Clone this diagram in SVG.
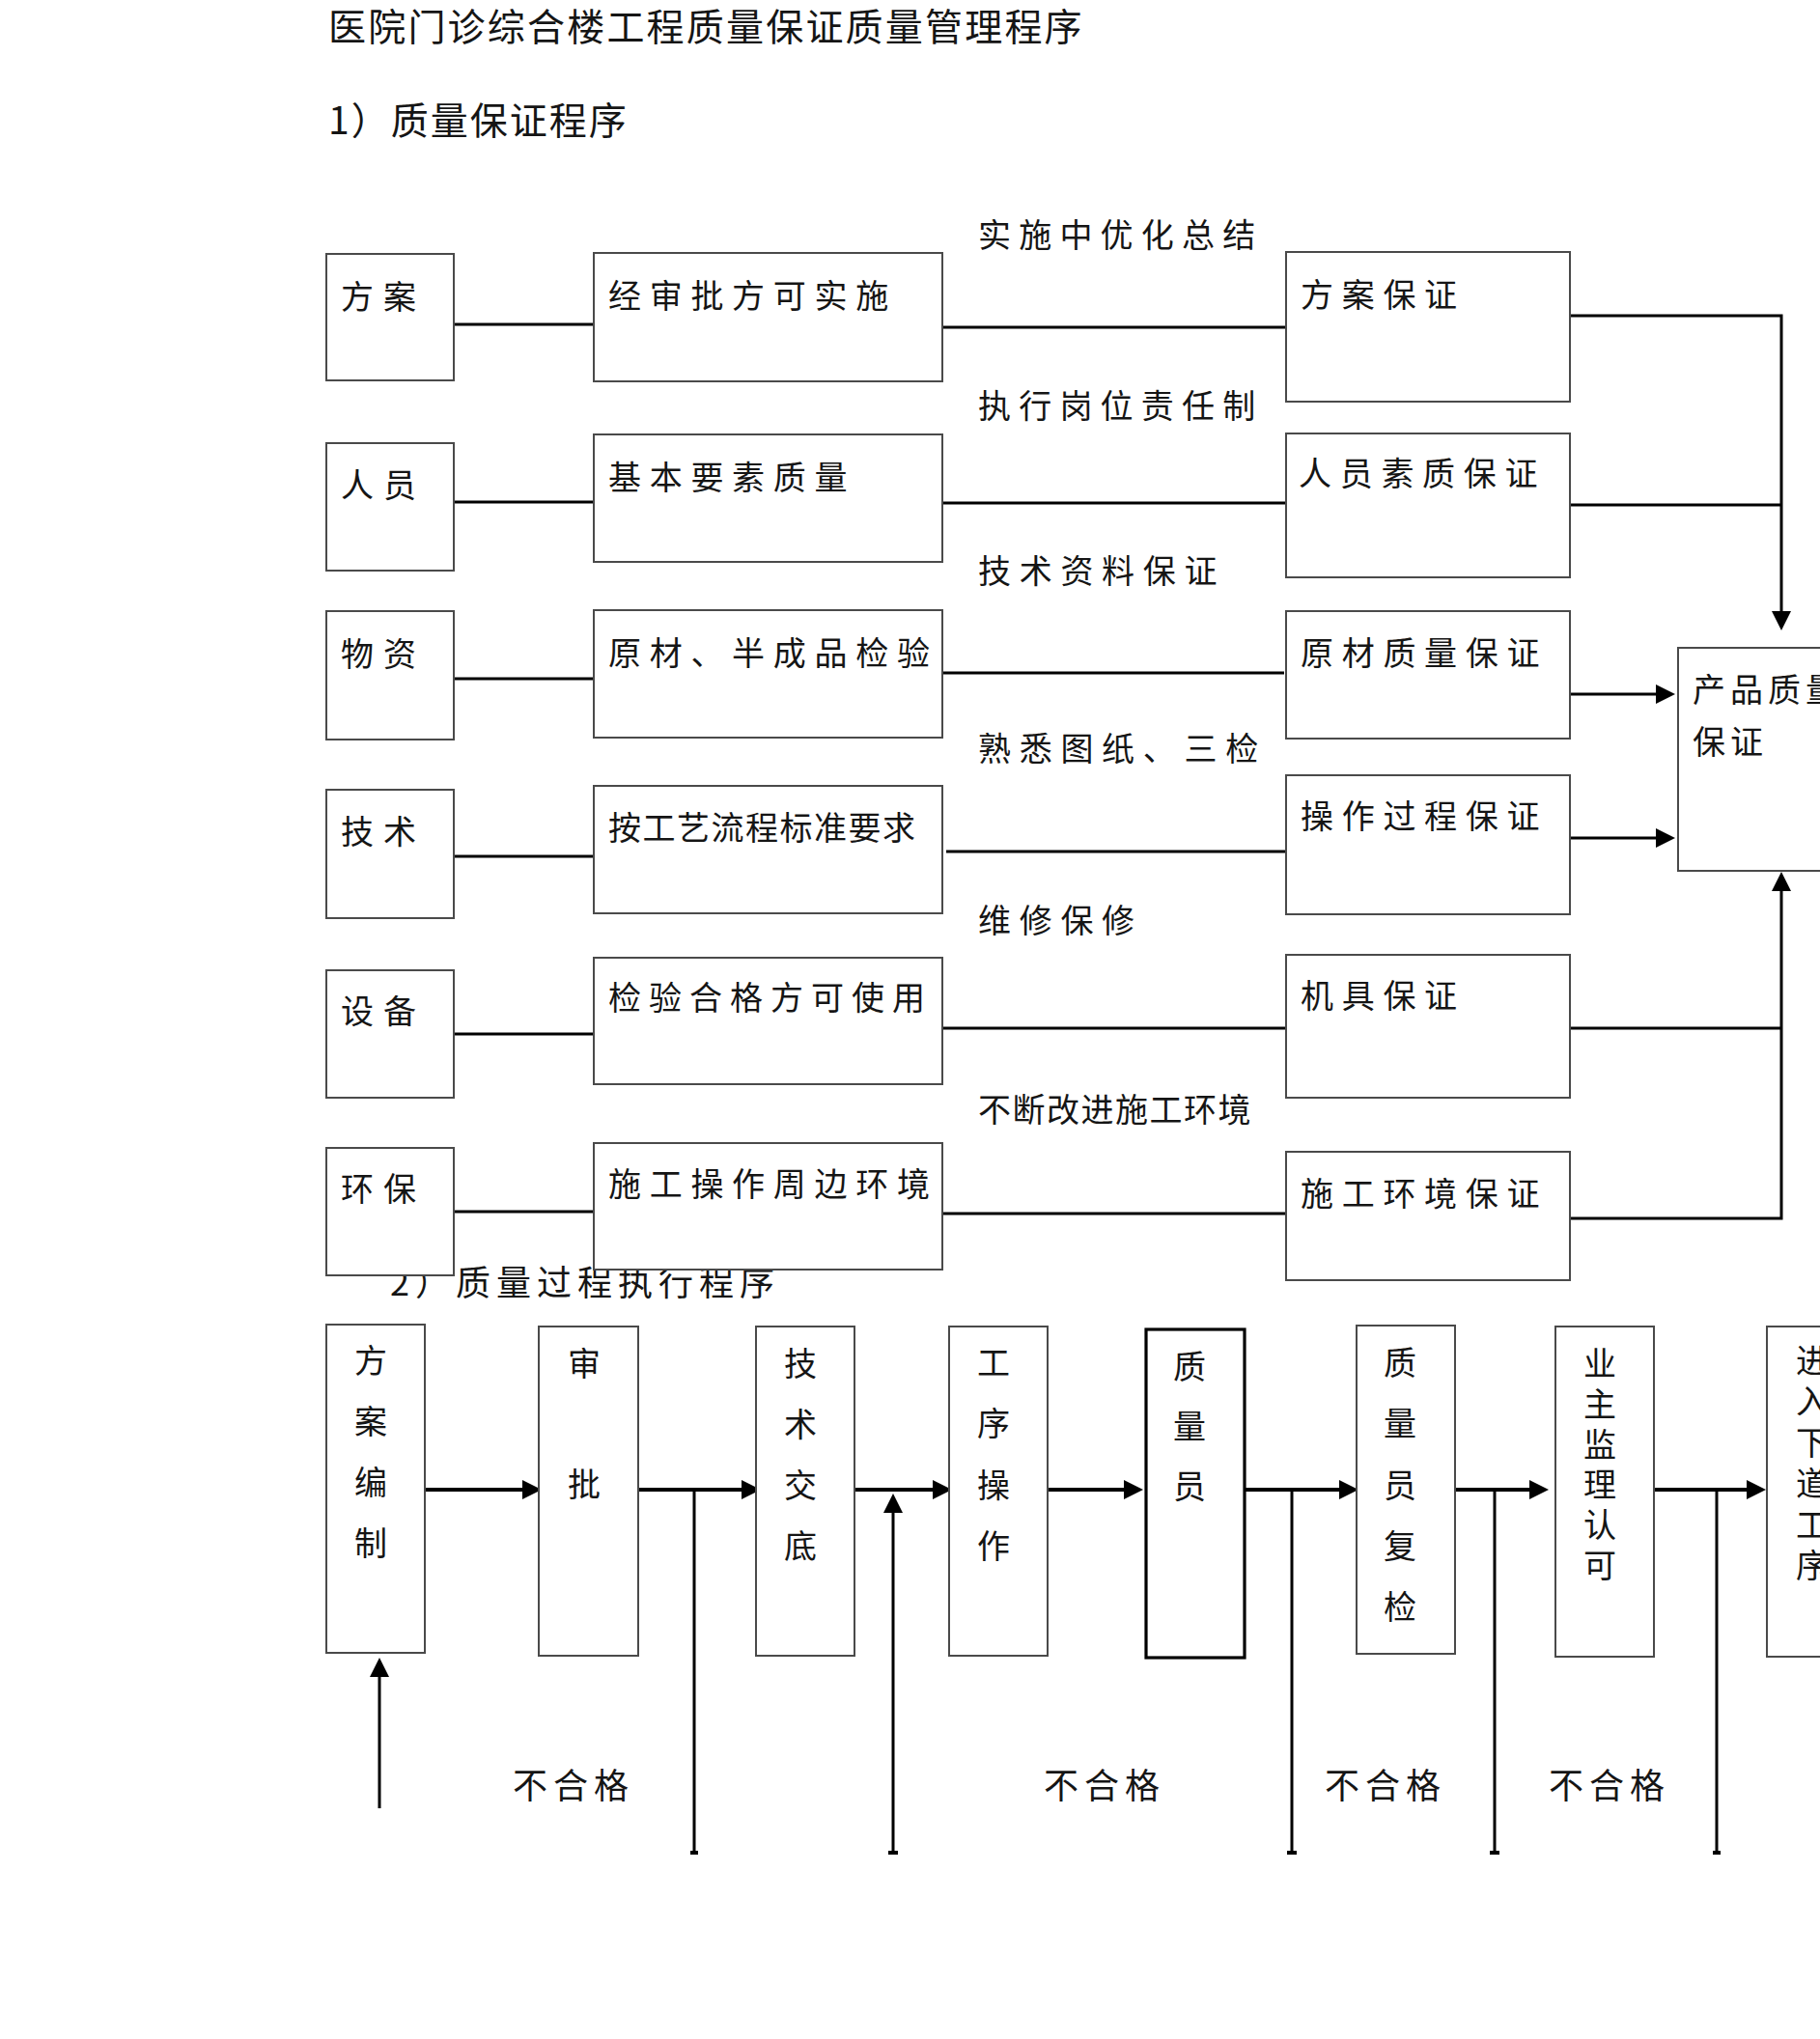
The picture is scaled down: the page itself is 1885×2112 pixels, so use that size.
<svg xmlns="http://www.w3.org/2000/svg" width="1885" height="2112" viewBox="0 0 1885 2112">
<defs>
<style>
text{font-family:"Noto Sans CJK SC","Noto Sans CJK JP",sans-serif;fill:#151515;}
.t34{font-size:34px;}
.sp{letter-spacing:8.7px;}
.sp2{letter-spacing:10px;}
.tight{letter-spacing:1.5px;}
.vt{font-size:34px;writing-mode:vertical-rl;}
.box{fill:#fff;stroke:#4a4a4a;stroke-width:2;}
.boxb{fill:#fff;stroke:#000;stroke-width:3.2;}
.ln{fill:none;stroke:#000;stroke-width:3;}
.ln4{fill:none;stroke:#000;stroke-width:4;}
.arr{marker-end:url(#ah);}
.ng{font-size:36px;letter-spacing:6px;}
</style>
<marker id="ah" markerUnits="userSpaceOnUse" markerWidth="20" markerHeight="20" viewBox="0 0 20 20" refX="16" refY="10" orient="auto">
<path d="M0,0 L20,10 L0,20 z" fill="#000"/>
</marker>
</defs>
<rect width="1885" height="2112" fill="#fff"/>

<g id="titles">
<text x="340" y="42" style="font-size:39px;letter-spacing:2.2px">医院门诊综合楼工程质量保证质量管理程序</text>
<text x="340" y="139" style="font-size:39px;letter-spacing:2px">1）质量保证程序</text>
<text x="404" y="1342" style="font-size:36px;letter-spacing:6px">2）质量过程执行程序</text>
</g>

<g id="connectors">
<path class="ln" d="M470,336 H615"/>
<path class="ln" d="M470,520 H615"/>
<path class="ln" d="M470,703 H615"/>
<path class="ln" d="M470,887 H615"/>
<path class="ln" d="M470,1071 H615"/>
<path class="ln" d="M470,1255 H615"/>
<path class="ln" d="M976,339 H1332"/>
<path class="ln" d="M976,521 H1332"/>
<path class="ln" d="M976,697 H1330"/>
<path class="ln" d="M980,882 H1335"/>
<path class="ln" d="M976,1065 H1332"/>
<path class="ln" d="M976,1257 H1332"/>
<path class="ln arr" d="M1626,327 H1845 V649"/>
<path class="ln" d="M1626,523 H1845"/>
<path class="ln arr" d="M1626,719 H1731"/>
<path class="ln arr" d="M1626,868 H1731"/>
<path class="ln" d="M1626,1065 H1845"/>
<path class="ln arr" d="M1626,1262 H1845 V907"/>

<path class="ln4 arr" d="M440,1543 H557"/>
<path class="ln4 arr" d="M661,1543 H784"/>
<path class="ln4 arr" d="M885,1543 H982"/>
<path class="ln4 arr" d="M1085,1543 H1180"/>
<path class="ln4 arr" d="M1289,1543 H1403"/>
<path class="ln4 arr" d="M1507,1543 H1600"/>
<path class="ln4 arr" d="M1713,1543 H1825"/>
<path class="ln" d="M719,1543 V1920"/>
<path class="ln arr" d="M925,1920 V1551"/>
<path class="ln" d="M1338,1543 V1920"/>
<path class="ln" d="M1548,1543 V1920"/>
<path class="ln" d="M1778,1543 V1920"/>
<path class="ln arr" d="M393,1873 V1721"/>
<rect x="715" y="1917" width="8" height="4" fill="#000"/>
<rect x="920" y="1917" width="10" height="4" fill="#000"/>
<rect x="1333" y="1917" width="10" height="4" fill="#000"/>
<rect x="1543" y="1917" width="10" height="4" fill="#000"/>
<rect x="1774" y="1917" width="8" height="4" fill="#000"/>
</g>

<g id="n-fangan"><rect class="box" x="338" y="263" width="132" height="131"/><text class="t34 sp2" x="353" y="320">方案</text></g>
<g id="n-renyuan"><rect class="box" x="338" y="459" width="132" height="132"/><text class="t34 sp2" x="353" y="515">人员</text></g>
<g id="n-wuzi"><rect class="box" x="338" y="633" width="132" height="133"/><text class="t34 sp2" x="353" y="690">物资</text></g>
<g id="n-jishu"><rect class="box" x="338" y="818" width="132" height="133"/><text class="t34 sp2" x="353" y="874">技术</text></g>
<g id="n-shebei"><rect class="box" x="338" y="1005" width="132" height="132"/><text class="t34 sp2" x="353" y="1060">设备</text></g>
<g id="n-huanbao"><rect class="box" x="338" y="1189" width="132" height="132"/><text class="t34 sp2" x="353" y="1244">环保</text></g>

<g id="n-shenpi"><rect class="box" x="615" y="262" width="361" height="133"/><text class="t34 sp" x="630" y="319">经审批方可实施</text></g>
<g id="n-jiben"><rect class="box" x="615" y="450" width="361" height="132"/><text class="t34 sp" x="630" y="507">基本要素质量</text></g>
<g id="n-yuancai"><rect class="box" x="615" y="632" width="361" height="132"/><text class="t34 sp" x="630" y="689">原材、半成品检验</text></g>
<g id="n-gongyi"><rect class="box" x="615" y="814" width="361" height="132"/><text class="t34 tight" x="630" y="870">按工艺流程标准要求</text></g>
<g id="n-jianyan"><rect class="box" x="615" y="992" width="361" height="131"/><text class="t34" x="630" y="1046" style="letter-spacing:8px">检验合格方可使用</text></g>
<g id="n-zhoubian"><rect class="box" x="615" y="1184" width="361" height="131"/><text class="t34 sp" x="630" y="1239">施工操作周边环境</text></g>

<g id="n-fabz"><rect class="box" x="1332" y="261" width="294" height="155"/><text class="t34 sp" x="1347" y="318">方案保证</text></g>
<g id="n-rybz"><rect class="box" x="1332" y="449" width="294" height="149"/><text class="t34 sp" x="1345" y="503">人员素质保证</text></g>
<g id="n-ycbz"><rect class="box" x="1332" y="633" width="294" height="132"/><text class="t34 sp" x="1347" y="689">原材质量保证</text></g>
<g id="n-czbz"><rect class="box" x="1332" y="803" width="294" height="144"/><text class="t34 sp" x="1347" y="858">操作过程保证</text></g>
<g id="n-jjbz"><rect class="box" x="1332" y="989" width="294" height="148"/><text class="t34 sp" x="1347" y="1044">机具保证</text></g>
<g id="n-hjbz"><rect class="box" x="1332" y="1193" width="294" height="133"/><text class="t34 sp" x="1347" y="1249">施工环境保证</text></g>

<g id="n-product"><rect class="box" x="1738" y="671" width="300" height="231"/><text class="t34" x="1753" y="727" style="letter-spacing:5px">产品质量</text><text class="t34" x="1753" y="781" style="letter-spacing:5px">保证</text></g>

<g id="labels">
<text class="t34" x="1013" y="256" style="letter-spacing:8.2px">实施中优化总结</text>
<text class="t34" x="1013" y="433" style="letter-spacing:8.2px">执行岗位责任制</text>
<text class="t34 sp" x="1013" y="604">技术资料保证</text>
<text class="t34 sp" x="1013" y="788">熟悉图纸、三检</text>
<text class="t34 sp" x="1013" y="966">维修保修</text>
<text class="t34 tight" x="1013" y="1162">不断改进施工环境</text>
<text class="ng" x="531" y="1863">不合格</text>
<text class="ng" x="1081" y="1863">不合格</text>
<text class="ng" x="1372" y="1863">不合格</text>
<text class="ng" x="1604" y="1863">不合格</text>
</g>

<g id="p-fangan"><rect class="box" x="338" y="1372" width="102" height="340"/><text class="vt" x="384" y="1392" style="letter-spacing:29px">方案编制</text></g>
<g id="p-shenpi"><rect class="box" x="558" y="1374" width="103" height="341"/><text class="vt" x="605" y="1395" style="letter-spacing:91px">审批</text></g>
<g id="p-jiaodi"><rect class="box" x="783" y="1374" width="102" height="341"/><text class="vt" x="829" y="1395" style="letter-spacing:29px">技术交底</text></g>
<g id="p-caozuo"><rect class="box" x="983" y="1374" width="102" height="341"/><text class="vt" x="1029" y="1394" style="letter-spacing:29.3px">工序操作</text></g>
<g id="p-zhiliangyuan"><rect class="boxb" x="1187" y="1377" width="102" height="340"/><text class="vt" x="1232" y="1398" style="letter-spacing:28px">质量员</text></g>
<g id="p-fujian"><rect class="box" x="1405" y="1373" width="102" height="340"/><text class="vt" x="1450" y="1394" style="letter-spacing:29.3px">质量员复检</text></g>
<g id="p-yezhu"><rect class="box" x="1611" y="1374" width="102" height="342"/><text class="vt" x="1657" y="1395" style="letter-spacing:7.8px">业主监理认可</text></g>
<g id="p-next"><rect class="box" x="1830" y="1374" width="200" height="342"/><text class="vt" x="1877" y="1392" style="letter-spacing:8.4px">进入下道工序</text></g>
</svg>
